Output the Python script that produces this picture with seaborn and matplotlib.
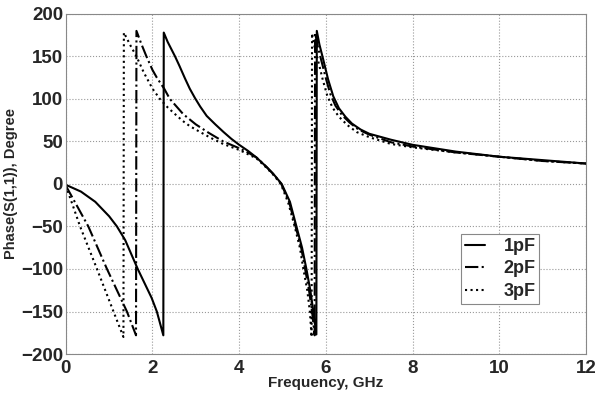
import matplotlib
matplotlib.use("Agg")
import matplotlib.pyplot as plt
import seaborn as sns

# values (frequency in GHz, phase in degrees)
freq_1pf = [0, 0.35, 0.68, 1.0, 1.18, 1.37, 1.66, 1.98, 2.1, 2.25, 2.26,
            2.35, 2.45, 2.52, 2.62, 2.75, 2.86, 2.98, 3.1, 3.25, 3.45, 3.64, 3.82, 4.0,
            4.2, 4.4, 4.63, 4.8, 4.98, 5.17, 5.32, 5.45, 5.55, 5.64, 5.71, 5.78, 5.79,
            5.85, 5.93, 6.05, 6.17, 6.3, 6.45, 6.6, 6.8, 7.0, 7.5, 8.0, 9.0, 10.0, 11.0, 12.0]
phase_1pf = [-1, -9, -21, -38, -50, -66, -100, -134, -150, -178, 178,
             167, 157, 150, 139, 124, 112, 101, 91, 80, 70, 61, 53, 46,
             39, 31, 20, 11, 0, -21, -50, -75, -100, -125, -150, -177, 180,
             164, 148, 123, 103, 89, 79, 71, 64, 59, 52, 46, 38, 32, 28, 24]

freq_2pf = [0, 0.25, 0.52, 0.95, 1.41, 1.62, 1.63, 1.74, 1.86, 2.0, 2.1, 2.27, 2.4,
            2.71, 3.0, 3.3, 3.63, 4.0, 4.2, 4.4, 4.63, 4.8, 4.97, 5.15, 5.3, 5.43,
            5.52, 5.61, 5.68, 5.74, 5.75, 5.81, 5.89, 6.0, 6.1, 6.22, 6.37, 6.55, 6.75,
            7.0, 7.5, 8.0, 9.0, 10.0, 11.0, 12.0]
phase_2pf = [-2, -25, -50, -100, -150, -178, 180, 165, 150, 134, 125, 112, 100,
             82, 70, 60, 50, 42, 37, 31, 20, 11, 0, -21, -50, -75,
             -100, -125, -150, -178, 178, 162, 146, 124, 106, 92, 81, 72, 64,
             58, 49, 44, 37, 32, 27, 24]

freq_3pf = [0, 0.16, 0.33, 0.72, 1.1, 1.33, 1.34, 1.5, 1.63, 1.8, 2.0, 2.17, 2.35,
            2.5, 2.7, 2.86, 3.1, 3.35, 3.63, 4.0, 4.2, 4.4, 4.63, 4.8, 4.96, 5.13, 5.28,
            5.4, 5.48, 5.57, 5.63, 5.67, 5.68, 5.74, 5.82, 5.93, 6.03, 6.15, 6.3, 6.5,
            6.71, 7.0, 7.5, 8.0, 9.0, 10.0, 11.0, 12.0]
phase_3pf = [-2, -25, -50, -100, -150, -180, 178, 162, 150, 131, 112, 100, 90,
             83, 74, 68, 61, 54, 47, 40, 35, 30, 19, 10, 0, -22, -50,
             -75, -100, -125, -150, -180, 177, 161, 145, 122, 104, 90, 79, 69,
             61, 55, 47, 43, 37, 32, 27, 24]

labels = ["1pF", "2pF", "3pF"]
x_ticks = [0, 2, 4, 6, 8, 10, 12]
y_ticks = [-200, -150, -100, -50, 0, 50, 100, 150, 200]

sns.set_style("whitegrid", {"grid.linestyle": ":", "grid.color": "#999999",
                            "axes.edgecolor": "#888888"})
plt.rcParams["font.family"] = ["Liberation Sans", "DejaVu Sans"]

fig, ax = plt.subplots(figsize=(5.98, 3.96), dpi=100)
fig.subplots_adjust(left=0.11, right=0.98, top=0.965, bottom=0.106)

series = [(freq_1pf, phase_1pf, "-"), (freq_2pf, phase_2pf, "-."), (freq_3pf, phase_3pf, ":")]
for (f, p, ls), lab in zip(series, labels):
    sns.lineplot(x=f, y=p, ax=ax, sort=False, estimator=None, color="black",
                 linestyle=ls, linewidth=1.5, label=lab)

ax.set_xlim(0, 12)
ax.set_ylim(-200, 200)
ax.set_xticks(x_ticks)
ax.set_yticks(y_ticks)
ax.tick_params(labelsize=13.5, length=0)
ax.tick_params(axis="x", pad=4.5)
ax.tick_params(axis="y", pad=2)
for t in ax.get_xticklabels() + ax.get_yticklabels():
    t.set_fontweight("bold")
ax.grid(True, linewidth=0.8)

ax.set_xlabel("Frequency, GHz", fontsize=11, fontweight="bold", labelpad=-1)
ax.set_ylabel("Phase(S(1,1)), Degree", fontsize=10.5, fontweight="bold", labelpad=2)

leg = ax.legend(loc="center", bbox_to_anchor=(0.835, 0.25), fancybox=False,
                framealpha=1, edgecolor="#888888", handlelength=1.1,
                borderpad=0.2, labelspacing=0.3, handletextpad=1.05,
                prop={"weight": "bold", "size": 13})
leg.get_frame().set_linewidth(0.8)

fig.savefig("out.png", dpi=100)
